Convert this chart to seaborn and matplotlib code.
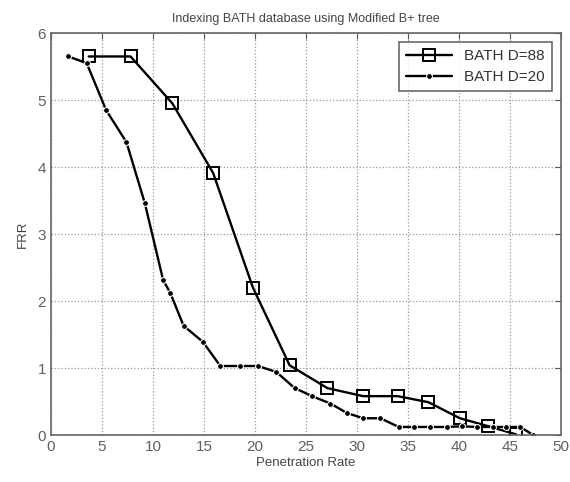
import numpy as np
import pandas as pd
import seaborn as sns
import matplotlib.pyplot as plt

# values
pen_88 = [3.7, 7.8, 11.9, 15.9, 19.8, 23.4, 27.1, 30.6, 34.0, 37.0, 40.1, 42.9, 45.6]
frr_88 = [5.65, 5.65, 4.95, 3.91, 2.2, 1.04, 0.7, 0.58, 0.58, 0.49, 0.25, 0.13, 0.01]

pen_20 = [1.7, 3.5, 5.4, 7.4, 9.2, 11.0, 11.7, 13.0, 14.9, 16.6, 18.5, 20.3, 22.1,
          23.9, 25.6, 27.4, 29.0, 30.6, 32.3, 34.1, 35.6, 37.2, 38.8, 40.3, 41.8,
          43.3, 44.6, 46.0, 47.3]
frr_20 = [5.65, 5.55, 4.85, 4.37, 3.46, 2.31, 2.12, 1.63, 1.39, 1.03, 1.03, 1.03, 0.94,
          0.70, 0.58, 0.47, 0.33, 0.25, 0.25, 0.12, 0.12, 0.12, 0.12, 0.13, 0.12,
          0.12, 0.12, 0.12, 0.0]

labels = ["BATH D=88", "BATH D=20"]

df = pd.concat([
    pd.DataFrame({"Penetration Rate": pen_88, "FRR": frr_88, "series": labels[0]}),
    pd.DataFrame({"Penetration Rate": pen_20, "FRR": frr_20, "series": labels[1]}),
])

sns.set_style("white")
plt.rcParams['font.family'] = ['Liberation Sans', 'DejaVu Sans']

fig = plt.figure(figsize=(5.7, 4.82), dpi=100)
ax = fig.add_axes([0.0895, 0.0975, 0.8945, 0.834])

sns.lineplot(data=df, x="Penetration Rate", y="FRR", hue="series", style="series",
             palette=["black", "black"], markers=["s", "o"], dashes=False,
             sort=False, ax=ax, linewidth=1.7, legend=False)

# marker styling: open squares and small filled dots
lines = ax.get_lines()
lines[0].set_markersize(8)
lines[0].set_markerfacecolor("none")
lines[0].set_markeredgecolor("black")
lines[0].set_markeredgewidth(1.4)
lines[1].set_markersize(4.2)
lines[1].set_markerfacecolor("black")

ax.set_xlim(0, 50)
ax.set_ylim(0, 6)
ax.set_xticks(np.arange(0, 51, 5))
ax.set_yticks(np.arange(0, 7, 1))
ax.grid(True, linestyle=":", color="#999999", linewidth=0.9)

for s in ax.spines.values():
    s.set_color("#666666")
    s.set_linewidth(1.2)
ax.tick_params(direction="in", top=True, right=True, length=4, color="#555555",
               labelsize=11, labelcolor="#606060")

ax.set_xlabel("Penetration Rate", fontsize=9.5, color="#444444", labelpad=2)
ax.set_ylabel("FRR", fontsize=9.5, color="#444444", labelpad=6)
ax.set_title("Indexing BATH database using Modified B+ tree", fontsize=9,
             color="#444444", pad=8)

leg = ax.legend(lines, labels, loc="upper right", fontsize=11, frameon=True,
                fancybox=False, edgecolor="#444444", handlelength=3.0,
                borderaxespad=0.6, labelspacing=0.45, borderpad=0.45)
leg.get_frame().set_linewidth(1.2)
for t in leg.get_texts():
    t.set_color("#333333")

fig.savefig("out.png", dpi=100)
